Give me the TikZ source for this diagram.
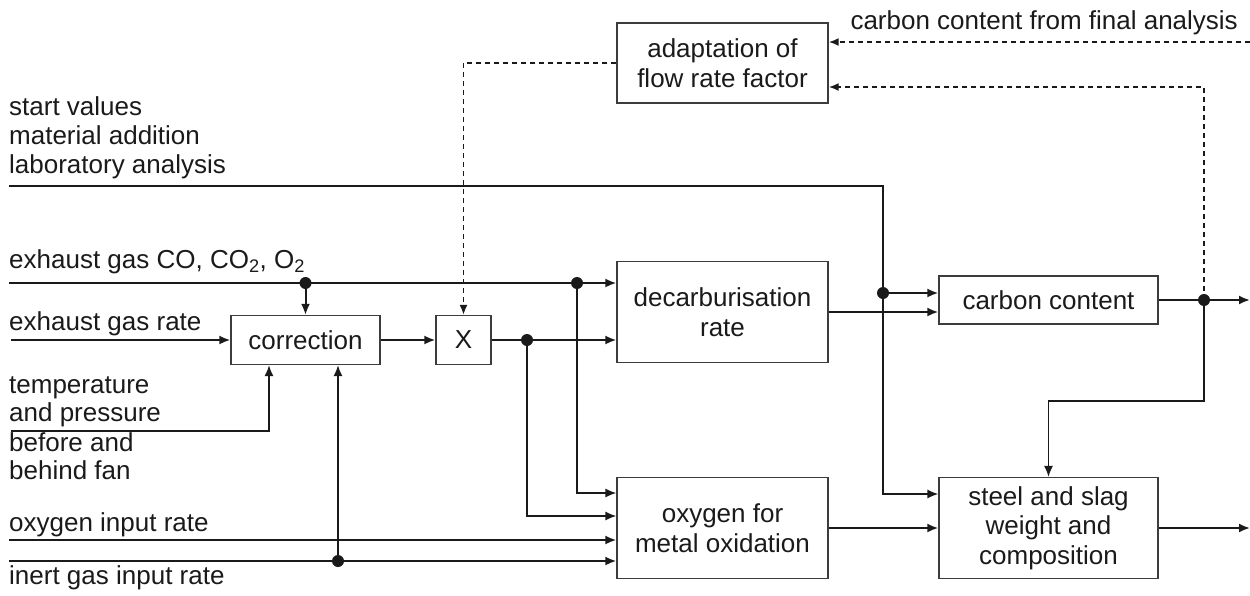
\documentclass[tikz,border=0pt]{standalone}
\usepackage{fontspec}
\setmainfont{Liberation Sans}
\usetikzlibrary{arrows.meta}
\definecolor{ink}{HTML}{1A1A1A}
\begin{document}
\begin{tikzpicture}[x=1pt,y=-1pt,
  every node/.style={font=\fontsize{26}{29.5}\selectfont, text=ink},
  blk/.style={draw=ink!85, line width=1.3pt, inner sep=0pt, align=center},
  lbl/.style={inner sep=0pt, anchor=base west},
  dot/.style={circle, fill=ink, inner sep=0pt, minimum size=12pt},
  sig/.style={line width=2pt, draw=ink, -{Latex[length=11pt,width=9pt]}},
  thn/.style={line width=1.4pt, draw=ink, -{Latex[length=11pt,width=9pt]}},
  dsh/.style={line width=1.8pt, draw=ink, dash pattern=on 5pt off 4pt, -{Latex[length=10pt,width=8pt]}}]
\useasboundingbox (0,0) rectangle (1250,595);

% blocks
\node[blk, minimum width=211pt, minimum height=80pt] (adapt) at (722.5,63) {adaptation of\\flow rate factor};
\node[blk, minimum width=211pt, minimum height=101pt] (decarb) at (722.5,312) {decarburisation\\rate};
\node[blk, minimum width=211pt, minimum height=101pt] (oxy) at (722.5,528) {oxygen for\\metal oxidation};
\node[blk, minimum width=219pt, minimum height=48pt] (carbon) at (1048.5,300) {carbon content};
\node[blk, minimum width=219pt, minimum height=101pt] (steel) at (1048.5,528) {steel and slag\\weight and\\composition};
\node[blk, minimum width=149pt, minimum height=49pt] (corr) at (305.5,340) {correction};
\node[blk, minimum width=55pt, minimum height=49pt] (mult) at (463.5,340) {X};

% labels
\node[lbl] (lsv) at (9,115) {start values};
\node[lbl] (lma) at (9,144) {material addition};
\node[lbl] (lla) at (9,173) {laboratory analysis};
\node[lbl] (lco) at (9,268) {exhaust gas CO, CO\textsubscript{2}, O\textsubscript{2}};
\node[lbl] (lrate) at (9,330) {exhaust gas rate};
\node[lbl] (ltemp) at (9,393) {temperature};
\node[lbl] (lpres) at (9,421) {and pressure};
\node[lbl] (lbef) at (9,451) {before and};
\node[lbl] (lbeh) at (9,479) {behind fan};
\node[lbl] (loxin) at (9,531) {oxygen input rate};
\node[lbl] (linert) at (9,584) {inert gas input rate};
\node[inner sep=0pt, anchor=base east] (lfinal) at (1238,29) {carbon content from final analysis};

% free ends and helpers
\coordinate (inL) at (9,186);
\coordinate (inCO) at (9,283);
\coordinate (inR) at (11,340);
\coordinate (inT) at (11,431);
\coordinate (inO) at (9,540);
\coordinate (inI) at (9,561);
\coordinate (outC) at (1250,300);
\coordinate (outS) at (1250,528);
\coordinate (inF) at (1250,42);
\coordinate (lb) at (883,494);
\coordinate (kc) at (1204,401);
\coordinate (tx) at (269,0);
\coordinate (y493) at (0,493);
\coordinate (y516) at (0,516);
\coordinate (y312) at (0,312);
\coordinate (yad) at (0,87);

% dots
\node[dot] (d1) at (305.5,283) {};
\node[dot] (d2) at (577,283) {};
\node[dot] (d3) at (527,340) {};
\node[dot] (d4) at (338,561) {};
\node[dot] (d5) at (883,293) {};
\node[dot] (d6) at (1204,300) {};

% signal lines
\draw[sig] (inCO) -- (inCO -| decarb.west);
\draw[sig] (d1.center) -- (corr.north);
\draw[thn] (d2.center) |- (oxy.west |- y493);
\draw[sig] (inR) -- (corr.west);
\draw[sig] (corr.east) -- (mult.west);
\draw[sig] (mult.east) -- (mult.east -| decarb.west);
\draw[thn] (d3.center) |- (oxy.west |- y516);
\draw[thn] (inT) -| (corr.south -| tx);
\draw[thn] (d4.center) -- (corr.south -| d4);
\draw[sig] (inO) -- (inO -| oxy.west);
\draw[sig] (inI) -- (inI -| oxy.west);
\draw[thn] (inL) -| (lb) -- (lb -| steel.west);
\draw[sig] (d5.center) -- (d5 -| carbon.west);
\draw[sig] (decarb.east |- y312) -- (carbon.west |- y312);
\draw[sig] (carbon.east) -- (outC);
\draw[thn] (d6.center) -- (kc) -| (steel.north);
\draw[sig] (oxy.east) -- (steel.west);
\draw[sig] (steel.east) -- (outS);

% dashed feedback
\draw[dsh] (inF) -- (inF -| adapt.east);
\draw[dsh] (d6.center) |- (adapt.east |- yad);
\draw[dsh] (adapt.west) -| (mult.north);
\end{tikzpicture}
\end{document}
